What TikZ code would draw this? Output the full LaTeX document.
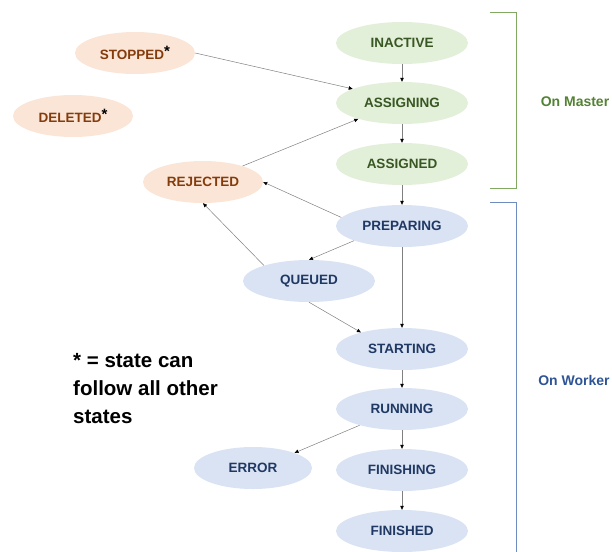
\documentclass[tikz,border=0pt]{standalone}
\usepackage{fontspec}
\setmainfont{Liberation Sans}
\usetikzlibrary{shapes.geometric,arrows.meta}

\definecolor{masterfill}{RGB}{226,239,217}
\definecolor{mastertext}{RGB}{56,87,35}
\definecolor{workerfill}{RGB}{218,227,243}
\definecolor{workertext}{RGB}{31,56,100}
\definecolor{specialfill}{RGB}{251,229,214}
\definecolor{specialtext}{RGB}{132,60,12}
\definecolor{masterline}{RGB}{130,168,100}
\definecolor{workerline}{RGB}{110,140,190}
\definecolor{masterlabel}{RGB}{84,130,53}
\definecolor{workerlabel}{RGB}{47,84,150}

\tikzset{
  state/.style={ellipse, draw=none, minimum width=132pt, minimum height=42pt,
    inner sep=0pt, font=\bfseries\fontsize{13.5}{15}\selectfont},
  masterstate/.style={state, fill=masterfill, text=mastertext},
  workerstate/.style={state, fill=workerfill, text=workertext},
  specialstate/.style={state, fill=specialfill, text=specialtext, minimum width=120pt},
  flow/.style={draw=black!50, line width=0.5pt,
    -{Triangle[length=4pt,width=3.5pt,color=black]}},
  bracket/.style={line width=1pt},
  grouplabel/.style={font=\bfseries\fontsize{14}{16}\selectfont}
}

% marker for states that can follow any other state
\newcommand{\anystate}{\raisebox{2.5pt}{\textcolor{black}{\fontsize{15}{15}\selectfont *}}}

\begin{document}
\begin{tikzpicture}[x=1pt,y=-1pt]
  \useasboundingbox (0,0) rectangle (612,551);

  % states handled on the master
  \node[masterstate] (inactive)  at (402,43)  {INACTIVE};
  \node[masterstate] (assigning) at (402,103) {ASSIGNING};
  \node[masterstate] (assigned)  at (402,164) {ASSIGNED};

  % states handled on the worker
  \node[workerstate] (preparing) at (402,226) {PREPARING};
  \node[workerstate] (queued)    at (309,281) {QUEUED};
  \node[workerstate] (starting)  at (402,349) {STARTING};
  \node[workerstate] (running)   at (402,409) {RUNNING};
  \node[workerstate, minimum width=118pt] (error) at (253,468) {ERROR};
  \node[workerstate] (finishing) at (402,470) {FINISHING};
  \node[workerstate] (finished)  at (402,531) {FINISHED};

  % states reachable from anywhere
  \node[specialstate] (stopped)  at (135,53)  {STOPPED\anystate};
  \node[specialstate] (deleted)  at (73,116)  {DELETED\anystate};
  \node[specialstate] (rejected) at (203,182) {REJECTED};

  % transitions
  \draw[flow] (inactive) -- (assigning);
  \draw[flow] (assigning) -- (assigned);
  \draw[flow] (assigned) -- (preparing);
  \draw[flow] (stopped.east) -- (assigning.164);
  \draw[flow] (rejected.22) -- (assigning.200);
  \draw[flow] (preparing.172) -- (rejected.east);
  \draw[flow] (preparing.197) -- (queued.north);
  \draw[flow] (queued.161) -- (rejected.south);
  \draw[flow] (queued.south) -- (starting.158);
  \draw[flow] (preparing) -- (starting);
  \draw[flow] (starting) -- (running);
  \draw[flow] (running.201) -- (error.20);
  \draw[flow] (running) -- (finishing);
  \draw[flow] (finishing) -- (finished);

  % group brackets
  \coordinate (mtop) at (490,13);
  \coordinate (mbot) at (490,188);
  \coordinate (wtop) at (490,202);
  \coordinate (wbot) at (516,552);
  \draw[bracket, masterline] (mtop) -- ++(26,0) |- (mbot);
  \draw[bracket, workerline] (wtop) -- ++(26,0) -- (wbot);
  \node[grouplabel, text=masterlabel] (masterlbl) at (575,102) {On Master};
  \node[grouplabel, text=workerlabel] (workerlbl) at (574,380) {On Worker};

  % legend
  \node[anchor=north west, inner sep=0pt, align=left,
        font=\bfseries\fontsize{20.5}{28}\selectfont] (legend) at (73,353)
        {* = state can\\follow all other\\states};
\end{tikzpicture}
\end{document}
